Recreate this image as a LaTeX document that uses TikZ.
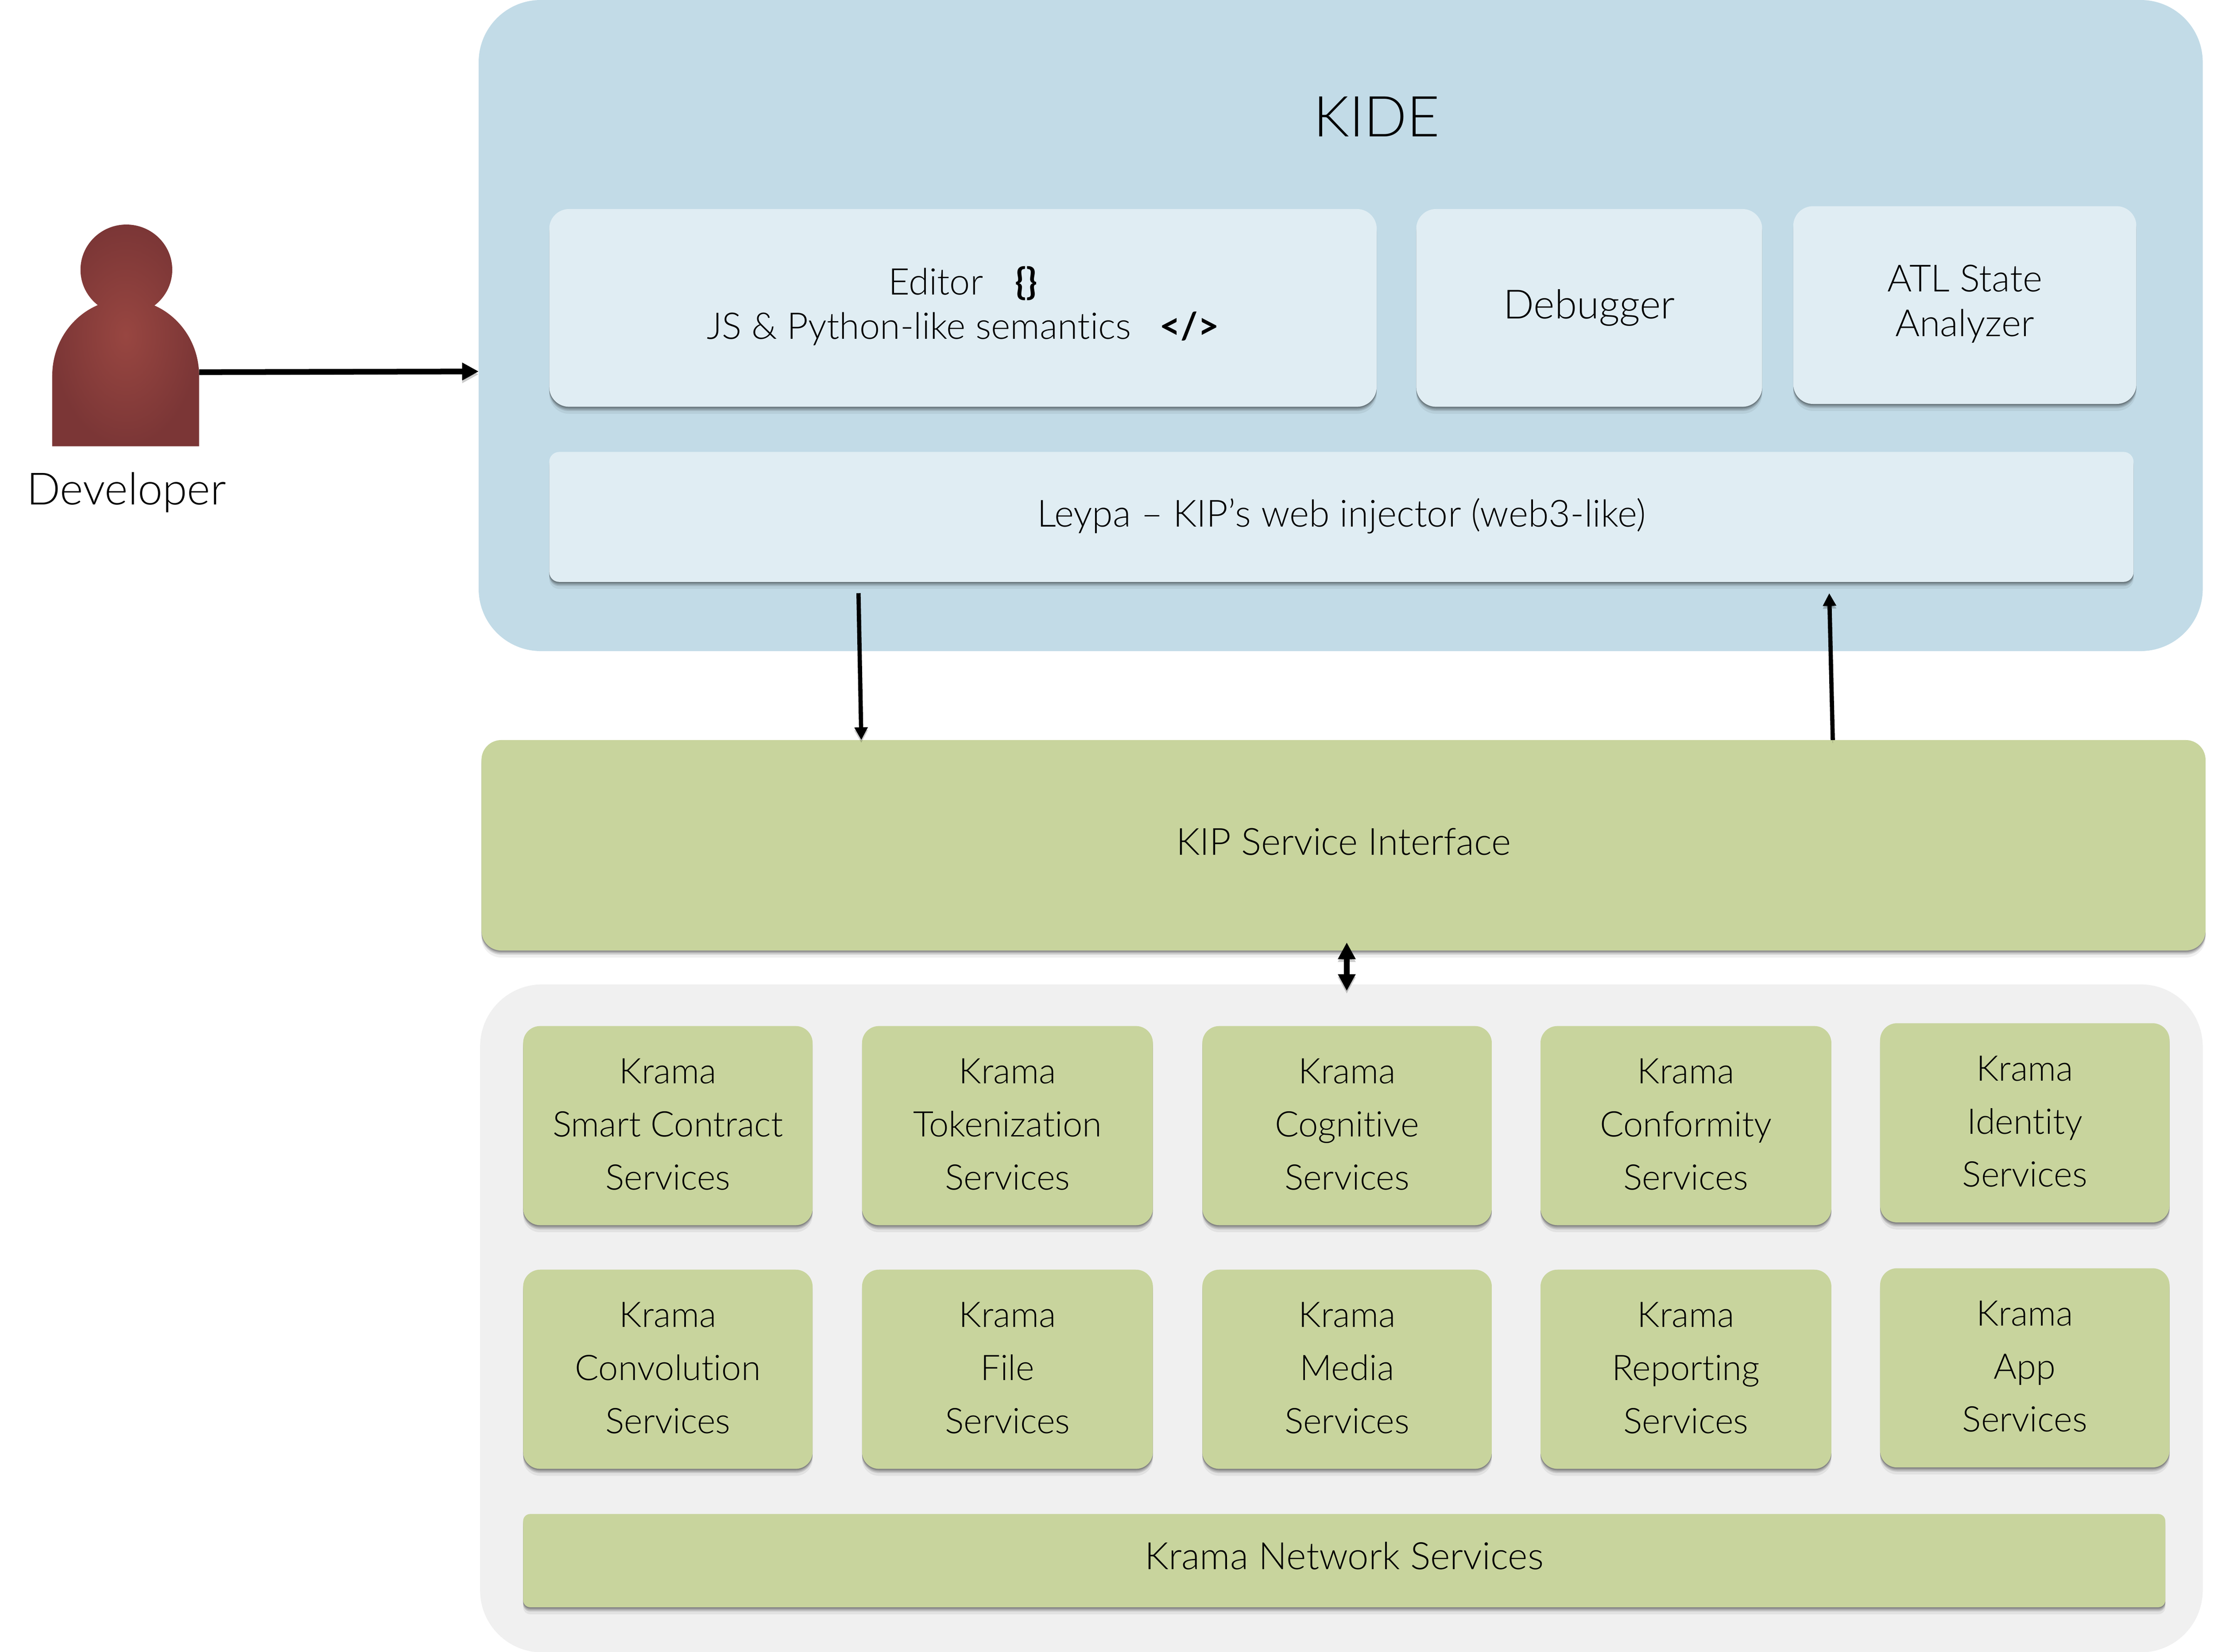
\documentclass[tikz,border=0pt]{standalone}
\usepackage{fontspec}
\setmainfont{Lato}[UprightFont=* Light,BoldFont=* Bold,Ligatures=NoCommon]
\usetikzlibrary{arrows.meta,shadows}

\definecolor{kideblue}{HTML}{C2DBE7}
\definecolor{paleblue}{HTML}{E0EDF3}
\definecolor{kramagreen}{HTML}{C8D49D}
\definecolor{panelgray}{HTML}{F0F0F0}
\definecolor{mandark}{HTML}{7B3636}
\definecolor{manlight}{HTML}{984641}

\tikzset{
  softshadow/.style={drop shadow={shadow xshift=0pt,shadow yshift=-1pt,opacity=.2,fill=black},
    drop shadow={shadow xshift=0pt,shadow yshift=-2pt,opacity=.15,fill=black},
    drop shadow={shadow xshift=0pt,shadow yshift=-3pt,opacity=.12,fill=black},
    drop shadow={shadow xshift=0pt,shadow yshift=-5pt,opacity=.06,fill=black}},
  bluebox/.style={rectangle,rounded corners=14pt,fill=paleblue,softshadow,align=center,inner sep=0pt,
    font=\fontsize{26.5}{31.5}\selectfont},
  kramabox/.style={rectangle,rounded corners=12pt,fill=kramagreen,softshadow,align=center,inner sep=0pt,
    minimum width=205pt,minimum height=141pt,font=\fontsize{25}{37.5}\selectfont,
    execute at end node={\rule[-2pt]{0pt}{2pt}}},
  wireshadow/.style={preaction={draw=black,opacity=.2,transform canvas={yshift=-2pt}}},
  wirethin/.style={wireshadow,line width=3pt,-{Triangle[length=9pt,width=9pt]}},
}

\begin{document}
\begin{tikzpicture}[x=1pt,y=-1pt]
\useasboundingbox (0,0) rectangle (1568,1169.7);

% panels
\node[rectangle,rounded corners=44pt,fill=kideblue,minimum width=1221pt,minimum height=461pt,inner sep=0pt] (kide) at (949.5,230.5) {};
\node[rectangle,rounded corners=44pt,fill=panelgray,minimum width=1220pt,minimum height=473pt,inner sep=0pt] (panel) at (950,933.5) {};
\node[font=\fontsize{40}{48}\selectfont] (kidetitle) at (975,82.5) {KIDE};

% KIDE boxes
\node[bluebox,minimum width=586pt,minimum height=140pt,font=\fontsize{26}{31.5}\selectfont] (editor) at (682,218) {\begin{tabular}{@{}c@{}}Editor\hspace{0.6em} \textbf{\{\}}\\JS \& Python-like semantics\hspace{0.5em} \textbf{</>}\end{tabular}};
\node[bluebox,minimum width=245pt,minimum height=140pt,font=\fontsize{28.5}{31.5}\selectfont] (debugger) at (1125.5,218) {\raisebox{2pt}{Debugger}};
\node[bluebox,minimum width=243pt,minimum height=140pt] (atl) at (1391.5,216) {\raisebox{-.5pt}{\begin{tabular}{@{}c@{}}ATL State\\Analyzer\end{tabular}}};
\node[bluebox,rounded corners=7pt,minimum width=1122pt,minimum height=92pt] (leypa) at (950,366) {\raisebox{6pt}{Leypa – KIP’s web injector (web3-like)}};

% service interface
\node[rectangle,rounded corners=14pt,fill=kramagreen,softshadow,minimum width=1221pt,minimum height=149pt,inner sep=0pt,font=\fontsize{26.5}{31.5}\selectfont] (kip) at (951.5,598.5) {\raisebox{5pt}{KIP Service Interface}};

% krama services
\node[kramabox] (smart) at (473,797) {Krama\\Smart Contract\\Services};
\node[kramabox,minimum width=206pt] (token) at (713.5,797) {Krama\\Tokenization\\Services};
\node[kramabox] (cognitive) at (954,797) {Krama\\Cognitive\\Services};
\node[kramabox,minimum width=206pt] (conform) at (1194,797) {Krama\\Conformity\\Services};
\node[kramabox] (identity) at (1434,795) {Krama\\Identity\\Services};

\node[kramabox] (convolution) at (473,969.5) {Krama\\Convolution\\Services};
\node[kramabox,minimum width=206pt] (file) at (713.5,969.5) {Krama\\File\\Services};
\node[kramabox] (media) at (954,969.5) {Krama\\Media\\Services};
\node[kramabox,minimum width=206pt] (reporting) at (1194,969.5) {Krama\\Reporting\\Services};
\node[kramabox] (app) at (1434,968.5) {Krama\\App\\Services};

\node[kramabox,rounded corners=5pt,minimum width=1163pt,minimum height=66pt,font=\fontsize{26.7}{31.5}\selectfont] (network) at (952,1105) {\raisebox{5pt}{Krama Network Services}};

% developer
\shade[inner color=manlight,outer color=mandark] (89.5,191) ellipse (32.5 and 32)
  (37,316) -- (37,266) arc[start angle=180,end angle=0,x radius=52,y radius=-54] -- (141,316) -- cycle;
\node[font=\fontsize{31.5}{36}\selectfont] (developer) at (89.5,348.5) {Developer};

% arrows
\coordinate (devout) at (141,263.5);
\coordinate (kidein) at (339,263);
\coordinate (leypaout) at (608,420);
\coordinate (kipin) at (610,524);
\coordinate (kipout) at (1298,524);
\coordinate (leypain) at (1295.5,420);
\coordinate (kipdown) at (953.8,667.3);
\coordinate (paneltop) at (953.8,701.6);

\draw[wireshadow,line width=4pt,-{Triangle[length=11.7pt,width=11.8pt]}] (devout) -- (kidein);
\draw[wirethin] (leypaout) -- (kipin);
\draw[wirethin] (kipout) -- (leypain);
\draw[wireshadow,line width=3.9pt,{Triangle[length=11.8pt,width=11.8pt]}-{Triangle[length=11.8pt,width=11.8pt]}] (kipdown) -- (paneltop);
\end{tikzpicture}
\end{document}
